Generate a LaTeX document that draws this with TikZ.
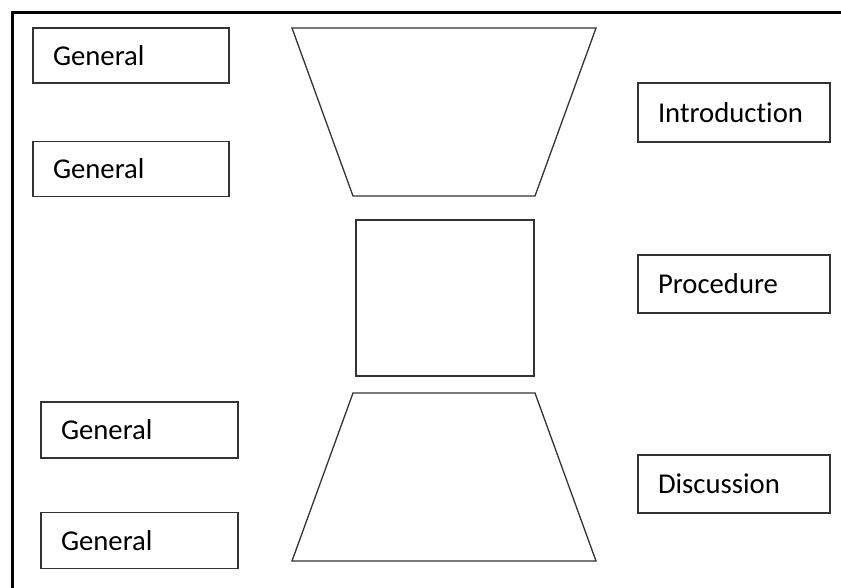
\documentclass[tikz,border=0pt]{standalone}
\usepackage{fontspec}
\setmainfont[RawFeature={-liga;-clig}]{Carlito}

\begin{document}
\begin{tikzpicture}[x=1pt, y=-1pt,
  line join=miter,
  outline/.style={draw=black!80, line width=1.3pt},
  lbox/.style={outline, rectangle, inner xsep=20pt, inner ysep=0pt, text width=156pt, minimum height=55pt, align=left, font=\fontsize{28.7}{30}\selectfont},
  rbox/.style={lbox, text width=152pt, minimum height=58pt}]
  \clip (0,0) rectangle (841,587);
  \draw [black, line width=3pt] (12,12) rectangle (860,610);
  % left labels
  \node [lbox] (gen1) at (131,55.5) {General};
  \node [lbox] (gen2) at (131,169) {General};
  \node [lbox, text width=157pt, minimum height=56pt] (gen3) at (139.5,430) {General};
  \node [lbox, text width=157pt, minimum height=56pt] (gen4) at (139.5,540.5) {General};
  % right labels
  \node [rbox, minimum height=59pt] (intro) at (734,112.5) {Introduction};
  \node [rbox] (proc) at (734,284) {Procedure};
  \node [rbox] (disc) at (734,484) {Discussion};
  % hourglass
  \draw [outline] (292,28) -- (596,28) -- (535,196) -- (353,196) -- cycle;
  \node [outline, rectangle, inner sep=0pt, minimum width=178pt, minimum height=156pt] (mid) at (445,298) {};
  \draw [outline] (353,393) -- (535,393) -- (596,561) -- (292,561) -- cycle;
\end{tikzpicture}
\end{document}
